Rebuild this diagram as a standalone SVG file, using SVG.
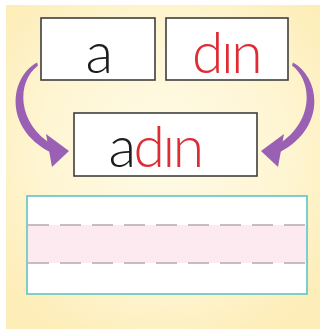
<svg xmlns="http://www.w3.org/2000/svg" width="320" height="329" viewBox="0 0 320 329">
  <defs>
    <radialGradient id="bg" cx="0.5" cy="0.45" r="0.65">
      <stop offset="0" stop-color="#fffbe8"/>
      <stop offset="0.6" stop-color="#fef5d2"/>
      <stop offset="1" stop-color="#fdedb8"/>
    </radialGradient>
    <g id="arrow">
      <path d="M37,62.5 C9,78 4,128 50,152 L53,145 C17,124 16,82 38,65.5 Z" fill="#9a60b4"/>
      <polygon points="46,134 69,151 52,167" fill="#9a60b4"/>
    </g>
  </defs>
  <style>
    .box { fill: #ffffff; stroke: #3e3e3e; stroke-width: 1.6; }
    .word { font-family: Lato, "Open Sans", "DejaVu Sans", sans-serif; font-weight: 300; font-size: 57px; text-anchor: middle; letter-spacing: -2.5px; }
    .blk { fill: #1c1c1c; }
    .red { fill: #de2c35; }
  </style>
  <rect x="0" y="0" width="320" height="329" fill="#ffffff"/>
  <rect x="6" y="5" width="314" height="324" fill="url(#bg)"/>

  <g id="connectors">
    <use href="#arrow"/>
    <use href="#arrow" transform="translate(330,0) scale(-1,1)"/>
  </g>

  <g id="node-a">
    <rect class="box" x="41" y="18" width="114" height="62"/>
    <text class="word blk" x="98" y="73">a</text>
  </g>
  <g id="node-din">
    <rect class="box" x="166" y="18" width="122" height="62"/>
    <text class="word red" x="226" y="73">dın</text>
  </g>
  <g id="node-adin">
    <rect class="box" x="74" y="113" width="183" height="63"/>
    <text class="word" x="155" y="167"><tspan class="blk">a</tspan><tspan class="red">dın</tspan></text>
  </g>

  <g id="writing-lines">
    <rect x="27" y="196" width="280" height="98" fill="#ffffff"/>
    <rect x="28" y="225" width="278" height="38" fill="#fde9f0"/>
    <line x1="28" y1="225" x2="306" y2="225" stroke="#b5abab" stroke-width="1.3" stroke-dasharray="21 11"/>
    <line x1="28" y1="263" x2="306" y2="263" stroke="#b5abab" stroke-width="1.3" stroke-dasharray="21 11"/>
    <rect x="27" y="196" width="280" height="98" fill="none" stroke="#5ec3c3" stroke-width="1.6"/>
  </g>
</svg>
